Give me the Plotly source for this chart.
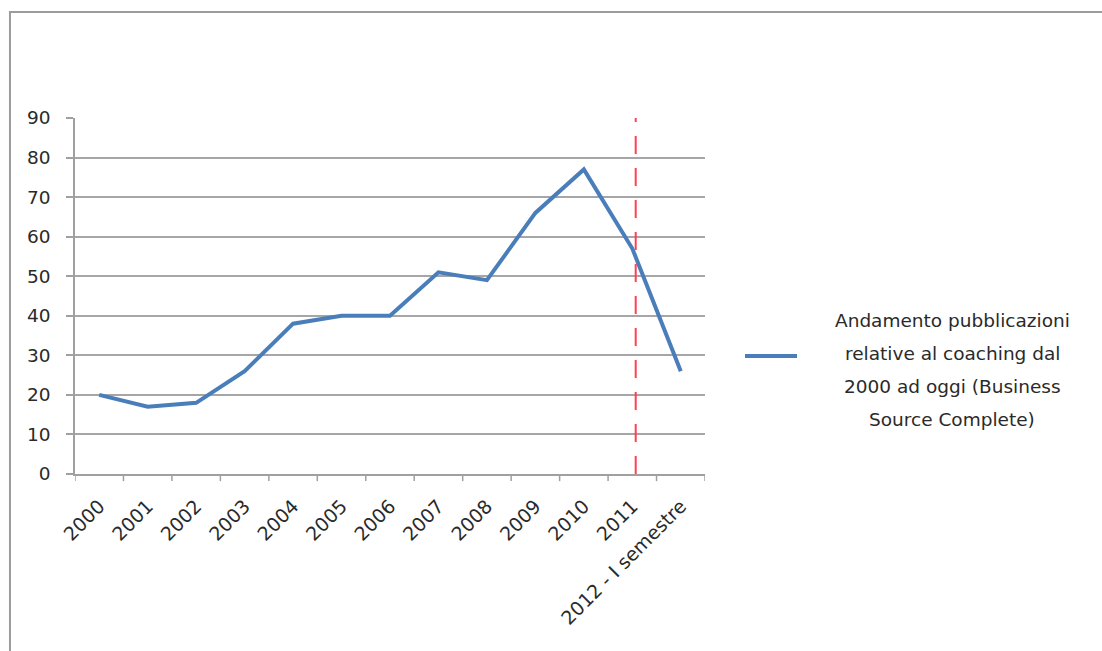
import plotly.graph_objects as go

categories = ["2000", "2001", "2002", "2003", "2004", "2005", "2006",
              "2007", "2008", "2009", "2010", "2011", "2012 - I semestre"]
values = [20, 17, 18, 26, 38, 40, 40, 51, 49, 66, 77, 57, 26]
legend_lines = ["Andamento pubblicazioni", "relative al coaching dal",
                "2000 ad oggi (Business", "Source Complete)"]
marker_pos = 11.07  # dashed red reference line (category units)

FONT = "DejaVu Sans"
TXT = "#2a2a2a"
AX = "#a0a0a0"

fig = go.Figure()
fig.add_trace(go.Scatter(
    x=list(range(len(categories))), y=values, mode="lines",
    line=dict(color="#4A7EBB", width=4), showlegend=False,
    name=" ".join(legend_lines),
))

fig.update_layout(
    width=1102, height=651,
    margin=dict(l=75, r=397, t=118, b=177),
    paper_bgcolor="white", plot_bgcolor="white",
    font=dict(family=FONT, size=18, color=TXT),
    xaxis=dict(
        range=[-0.5, len(categories) - 0.5],
        tickmode="array", tickvals=list(range(len(categories))), ticktext=categories,
        tickangle=-45, showgrid=False, zeroline=False,
        showline=True, linecolor=AX, linewidth=1.5,
        ticks="", tickfont=dict(size=19, family=FONT, color=TXT),
        ticklabelstandoff=12,
    ),
    yaxis=dict(
        range=[0, 90], tickmode="linear", tick0=0, dtick=10,
        showgrid=True, gridcolor="#a6a6a6", gridwidth=1.5,
        zeroline=False, showline=True, linecolor=AX, linewidth=1.5,
        ticks="outside", ticklen=7, tickcolor=AX, tickwidth=1.5,
        tickfont=dict(size=18.5, family=FONT, color=TXT),
        ticklabelstandoff=12,
    ),
)

# x tick marks at category boundaries
for i in range(len(categories) + 1):
    fig.add_shape(type="line", xref="x", yref="paper",
                  x0=i - 0.5, x1=i - 0.5, y0=0, y1=-0.02,
                  line=dict(color=AX, width=1.5))

# dashed reference line
fig.add_shape(type="line", xref="x", yref="paper",
              x0=marker_pos, x1=marker_pos, y0=0, y1=1,
              line=dict(color="#FF4050", width=2, dash="18px,14px"))

# outer chart frame
fig.add_shape(type="rect", xref="paper", yref="paper",
              x0=-0.1032, x1=1.7, y0=-0.6, y1=1.2978,
              line=dict(color="#9c9c9c", width=2), layer="below")

# legend sample + text
fig.add_shape(type="line", xref="paper", yref="paper",
              x0=(745 - 75) / 630, x1=(797 - 75) / 630,
              y0=(474 - 356) / 356, y1=(474 - 356) / 356,
              line=dict(color="#4A7EBB", width=4))
for k, line in enumerate(legend_lines):
    ypix = 320 + 33.3 * k
    fig.add_annotation(xref="paper", yref="paper",
                       x=(952 - 75) / 630, y=(474 - ypix) / 356,
                       text=line, showarrow=False, align="center",
                       xanchor="center", yanchor="middle",
                       font=dict(size=18.5, family=FONT, color=TXT))

fig.write_html("out.html")
